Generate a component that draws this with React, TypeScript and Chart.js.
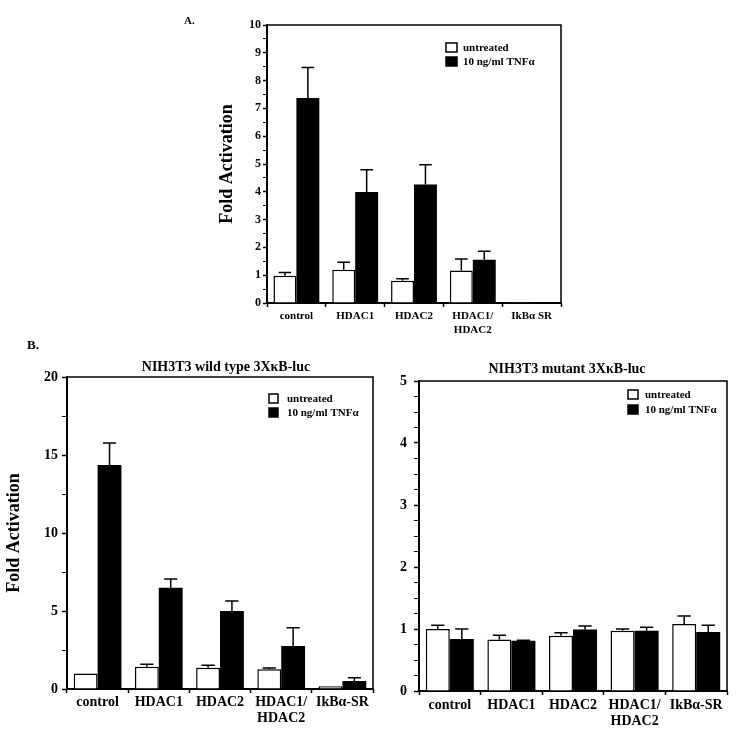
import React, { useEffect, useRef } from "react";
import { Chart, registerables } from "chart.js";

Chart.register(...registerables);

const FONT = "'Liberation Serif', 'Times New Roman', Times, serif";

const seriesLabels = ["untreated", "10 ng/ml TNFα"];

// ---- Panel A ----
const categoriesA = ["control", "HDAC1", "HDAC2", ["HDAC1/", "HDAC2"], "IkBα SR"];
const untreatedA = [0.98, 1.2, 0.8, 1.17, 0.03];
const untreatedErrA = [0.12, 0.27, 0.07, 0.41, 0];
const tnfA = [7.37, 3.99, 4.26, 1.56, 0.01];
const tnfErrA = [1.1, 0.8, 0.71, 0.3, 0];
const untreatedColorsA = ["#ffffff", "#ffffff", "#ffffff", "#ffffff", "#ffffff"];

// ---- Panel B, wild type ----
const categoriesB = ["control", "HDAC1", "HDAC2", ["HDAC1/", "HDAC2"], "IkBα-SR"];
const untreatedBwt = [1.0, 1.43, 1.37, 1.26, 0.17];
const untreatedErrBwt = [0, 0.15, 0.15, 0.09, 0];
const tnfBwt = [14.36, 6.49, 5.0, 2.76, 0.51];
const tnfErrBwt = [1.41, 0.56, 0.64, 1.17, 0.21];
const untreatedColorsBwt = ["#ffffff", "#ffffff", "#ffffff", "#ffffff", "#c4c4c4"];

// ---- Panel B, mutant ----
const untreatedBmut = [1.0, 0.83, 0.89, 0.97, 1.08];
const untreatedErrBmut = [0.06, 0.07, 0.05, 0.03, 0.13];
const tnfBmut = [0.84, 0.81, 0.99, 0.97, 0.95];
const tnfErrBmut = [0.16, 0.01, 0.06, 0.06, 0.11];
const untreatedColorsBmut = ["#ffffff", "#ffffff", "#ffffff", "#ffffff", "#ffffff"];

const yTitle = "Fold Activation";
const titleBwt = "NIH3T3 wild type 3XκB-luc";
const titleBmut = "NIH3T3 mutant 3XκB-luc";

const decoPlugin = {
  id: "deco",
  afterDraw(chart: any, _args: any, opts: any) {
    const ctx = chart.ctx;
    const { left, right, top, bottom } = chart.chartArea;
    const yScale = chart.scales.y;
    ctx.save();
    // error bars
    chart.data.datasets.forEach((ds: any, i: number) => {
      const meta = chart.getDatasetMeta(i);
      const errs = ds.errors || [];
      meta.data.forEach((bar: any, j: number) => {
        const e = errs[j];
        if (!e) return;
        const v = ds.data[j];
        const p = bar.getProps(["x", "y", "width"], true);
        const yTop = yScale.getPixelForValue(v + e);
        const cw = (p.width * opts.capRatio) / 2;
        ctx.strokeStyle = "#000";
        ctx.lineWidth = 1.5;
        ctx.beginPath();
        ctx.moveTo(p.x, p.y);
        ctx.lineTo(p.x, yTop);
        ctx.moveTo(p.x - cw, yTop);
        ctx.lineTo(p.x + cw, yTop);
        ctx.stroke();
      });
    });
    // frame top/right
    ctx.strokeStyle = "#000";
    ctx.lineWidth = opts.frameWidth;
    ctx.beginPath();
    ctx.moveTo(left - 1, top);
    ctx.lineTo(right, top);
    ctx.lineTo(right, bottom + 1);
    ctx.stroke();
    // legend
    const lg = opts.legend;
    ctx.textAlign = "left";
    ctx.textBaseline = "middle";
    ctx.font = `bold ${lg.font}px ${FONT}`;
    chart.data.datasets.forEach((ds: any, i: number) => {
      const by = lg.boxY[i];
      ctx.fillStyle = i === 0 ? "#fff" : "#000";
      ctx.fillRect(lg.boxX, by, lg.boxW, lg.boxH);
      ctx.lineWidth = 1.5;
      ctx.strokeStyle = "#000";
      ctx.strokeRect(lg.boxX, by, lg.boxW, lg.boxH);
      ctx.fillStyle = "#000";
      ctx.fillText(ds.label, lg.textX, by + lg.boxH / 2 + 0.5);
    });
    // chart title
    if (opts.title) {
      ctx.font = `bold ${opts.title.size}px ${FONT}`;
      ctx.textAlign = "center";
      ctx.fillStyle = "#000";
      ctx.fillText(opts.title.text, opts.title.x, opts.title.y);
    }
    // panel letter
    if (opts.letter) {
      ctx.font = `bold ${opts.letter.size}px ${FONT}`;
      ctx.textAlign = "left";
      ctx.fillStyle = "#000";
      ctx.fillText(opts.letter.text, opts.letter.x, opts.letter.y);
    }
    ctx.restore();
  },
};

type Panel = {
  left: number; top: number; width: number; height: number;
  padTop: number; padRight: number; yAxisWidth: number; xAxisHeight: number;
  categories: any[]; untreated: number[]; untreatedErr: number[]; tnf: number[]; tnfErr: number[];
  untreatedColors: string[];
  yMax: number; yStep: number; yLabelStep: number;
  yTickFont: number; xTickFont: number; xLineHeight: number;
  yTickLen: number; yTickPad: number; xTickLen: number; xTickPad: number;
  yTitle?: { text: string; size: number; offset: number };
  deco: any;
};

const panels: Panel[] = [
  {
    left: 150, top: 0, width: 430, height: 345,
    padTop: 25, padRight: 19, yAxisWidth: 117, xAxisHeight: 42,
    categories: categoriesA, untreated: untreatedA, untreatedErr: untreatedErrA, tnf: tnfA, tnfErr: tnfErrA,
    untreatedColors: untreatedColorsA,
    yMax: 10, yStep: 0.5, yLabelStep: 1,
    yTickFont: 12, xTickFont: 11, xLineHeight: 1.2,
    yTickLen: 4, yTickPad: 2, xTickLen: 4, xTickPad: 3,
    yTitle: { text: yTitle, size: 18, offset: 67 },
    deco: {
      capRatio: 0.55, frameWidth: 1.5,
      legend: { boxX: 296, boxY: [43, 57], boxW: 11, boxH: 9, textX: 313, font: 11 },
      letter: { text: "A.", x: 34, y: 21, size: 11 },
    },
  },
  {
    left: 0, top: 330, width: 385, height: 404,
    padTop: 47, padRight: 12, yAxisWidth: 67, xAxisHeight: 45,
    categories: categoriesB, untreated: untreatedBwt, untreatedErr: untreatedErrBwt, tnf: tnfBwt, tnfErr: tnfErrBwt,
    untreatedColors: untreatedColorsBwt,
    yMax: 20, yStep: 2.5, yLabelStep: 5,
    yTickFont: 14, xTickFont: 14, xLineHeight: 1.1,
    yTickLen: 5, yTickPad: 4, xTickLen: 4, xTickPad: 2,
    yTitle: { text: yTitle, size: 18, offset: 4 },
    deco: {
      capRatio: 0.55, frameWidth: 1.5,
      legend: { boxX: 269, boxY: [64, 78], boxW: 9, boxH: 9, textX: 287, font: 11 },
      title: { text: titleBwt, x: 226, y: 37, size: 14 },
      letter: { text: "B.", x: 27, y: 15.5, size: 13 },
    },
  },
  {
    left: 380, top: 330, width: 363, height: 404,
    padTop: 51, padRight: 16, yAxisWidth: 39, xAxisHeight: 43,
    categories: categoriesB, untreated: untreatedBmut, untreatedErr: untreatedErrBmut, tnf: tnfBmut, tnfErr: tnfErrBmut,
    untreatedColors: untreatedColorsBmut,
    yMax: 5, yStep: 0.25, yLabelStep: 1,
    yTickFont: 14, xTickFont: 14, xLineHeight: 1.1,
    yTickLen: 5, yTickPad: 7, xTickLen: 4, xTickPad: 3,
    deco: {
      capRatio: 0.55, frameWidth: 1.5,
      legend: { boxX: 248, boxY: [60, 75], boxW: 10, boxH: 9, textX: 265, font: 11 },
      title: { text: titleBmut, x: 187, y: 39, size: 14 },
    },
  },
];

function PanelChart({ p }: { p: Panel }) {
  const ref = useRef<HTMLCanvasElement | null>(null);
  useEffect(() => {
    if (!ref.current) return;
    const isMajor = (v: number) =>
      Math.abs(v / p.yLabelStep - Math.round(v / p.yLabelStep)) < 1e-6;
    const chart = new Chart(ref.current, {
      type: "bar",
      data: {
        labels: p.categories,
        datasets: [
          {
            label: seriesLabels[0],
            data: p.untreated,
            errors: p.untreatedErr,
            backgroundColor: p.untreatedColors,
            borderColor: "#000",
            borderWidth: 1.5,
          } as any,
          {
            label: seriesLabels[1],
            data: p.tnf,
            errors: p.tnfErr,
            backgroundColor: "#000",
            borderColor: "#000",
            borderWidth: 0,
          } as any,
        ],
      },
      options: {
        animation: false,
        responsive: false,
        maintainAspectRatio: false,
        devicePixelRatio: 1,
        layout: { padding: { left: 0, top: p.padTop, right: p.padRight, bottom: 0 } },
        datasets: { bar: { categoryPercentage: 0.78, barPercentage: 1 } },
        plugins: {
          legend: { display: false },
          tooltip: { enabled: false },
          title: { display: false },
          deco: p.deco,
        } as any,
        scales: {
          x: {
            type: "category",
            offset: true,
            grid: {
              offset: true,
              drawOnChartArea: false,
              drawTicks: true,
              tickLength: p.xTickLen,
              tickColor: "#000",
              tickWidth: 1.5,
            },
            border: { display: true, color: "#000", width: 2 },
            ticks: {
              color: "#000",
              font: { family: FONT, size: p.xTickFont, weight: "bold", lineHeight: p.xLineHeight },
              padding: p.xTickPad,
              maxRotation: 0,
              minRotation: 0,
              autoSkip: false,
            },
            afterFit: (s: any) => {
              s.height = p.xAxisHeight;
            },
          },
          y: {
            type: "linear",
            min: 0,
            max: p.yMax,
            grid: {
              drawOnChartArea: false,
              drawTicks: true,
              tickLength: p.yTickLen,
              tickColor: "#000",
              tickWidth: (c: any) => (c.tick && isMajor(c.tick.value) ? 1.5 : 1),
            },
            border: { display: true, color: "#000", width: 2 },
            ticks: {
              stepSize: p.yStep,
              autoSkip: false,
              color: "#000",
              padding: p.yTickPad,
              font: { family: FONT, size: p.yTickFont, weight: "bold" },
              callback: (v: any) => (isMajor(Number(v)) ? String(Math.round(Number(v))) : ""),
            },
            title: p.yTitle
              ? {
                  display: true,
                  text: p.yTitle.text,
                  color: "#000",
                  font: { family: FONT, size: p.yTitle.size, weight: "bold" },
                  padding: { top: p.yTitle.offset, bottom: 0 },
                }
              : { display: false },
            afterFit: (s: any) => {
              s.width = p.yAxisWidth;
            },
          },
        } as any,
      },
      plugins: [decoPlugin as any],
    });
    return () => chart.destroy();
  }, [p]);
  return (
    <canvas
      ref={ref}
      width={p.width}
      height={p.height}
      style={{ position: "absolute", left: p.left, top: p.top, width: p.width, height: p.height }}
    />
  );
}

export default function App() {
  return (
    <div style={{ position: "absolute", left: 0, top: 0, width: 743, height: 734, background: "#fff" }}>
      {panels.map((p, i) => (
        <PanelChart key={i} p={p} />
      ))}
    </div>
  );
}
